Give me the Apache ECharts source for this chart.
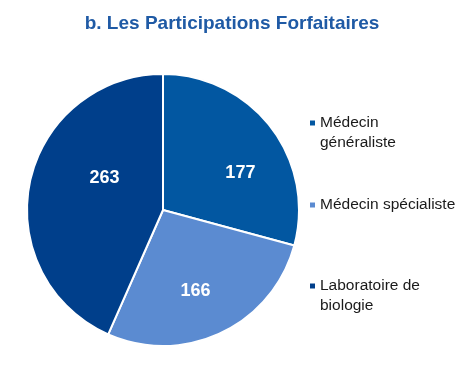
<!DOCTYPE html>
<html><head><meta charset="utf-8">
<script src="https://cdn.jsdelivr.net/npm/echarts@6/dist/echarts.min.js"></script>
<style>html,body{margin:0;padding:0;background:#fff}#c{width:464px;height:390px}</style>
</head><body><div id="c"></div>
<script>
const titleText = "b. Les Participations Forfaitaires";
const categories = ["Médecin généraliste", "Médecin spécialiste", "Laboratoire de biologie"];
const legendLabels = ["Médecin\ngénéraliste", "Médecin spécialiste", "Laboratoire de\nbiologie"];
const values = [177, 166, 263];
const colors = ["#0257A1", "#5B8BD1", "#003F8B"];
const labelShift = [[21, 6], [2, 17], [11, -17]];

const chart = echarts.init(document.getElementById('c'), null, {renderer: 'canvas'});
const legendTops = [93, 195, 256];
const legends = categories.map((c, i) => ({
  data: [c],
  orient: 'vertical',
  left: 310,
  top: legendTops[i],
  padding: 0,
  icon: 'rect',
  itemWidth: 5,
  itemHeight: 5,
  itemStyle: {borderWidth: 0},
  selectedMode: false,
  // a leading empty line keeps the marker level with the first text line
  formatter: () => (legendLabels[i].includes('\n') ? '\n' : '') + legendLabels[i],
  textStyle: {
    fontFamily: 'Liberation Sans, Arial, sans-serif',
    fontSize: 15.5,
    lineHeight: 20,
    color: '#1a1a1a'
  }
}));
chart.setOption({
  animation: false,
  color: colors,
  title: {
    text: titleText,
    left: 'center',
    top: 14,
    padding: 0,
    textStyle: {fontFamily: 'Liberation Sans, Arial, sans-serif', fontSize: 19, fontWeight: 'bold', color: '#1F5AA5'}
  },
  legend: legends,
  series: [{
    type: 'pie',
    center: [163, 210],
    radius: [0, 136],
    startAngle: 90,
    clockwise: true,
    silent: true,
    itemStyle: {borderColor: '#fff', borderWidth: 2},
    label: {
      show: true,
      position: 'inside',
      formatter: '{c}',
      color: '#fff',
      fontFamily: 'Liberation Sans, Arial, sans-serif',
      fontSize: 18,
      fontWeight: 'bold'
    },
    labelLine: {show: false},
    labelLayout: (p) => ({dx: labelShift[p.dataIndex][0], dy: labelShift[p.dataIndex][1]}),
    data: categories.map((c, i) => ({name: c, value: values[i]}))
  }]
});
</script></body></html>
